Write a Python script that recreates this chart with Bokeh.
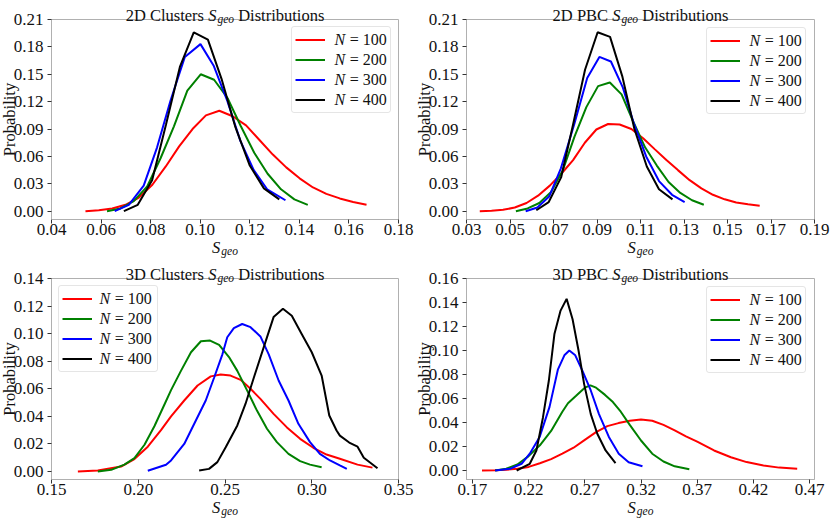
import math
from bokeh.plotting import figure
from bokeh.layouts import gridplot
from bokeh.models import Legend, LegendItem, FixedTicker, PrintfTickFormatter, Range1d
from bokeh.core.properties import value
from bokeh.embed import file_html
from bokeh.resources import INLINE

# ---------------- data ----------------
series_names = ["N = 100", "N = 200", "N = 300", "N = 400"]
series_colors = ["#ff0000", "#008000", "#0000ff", "#000000"]

# 2D Clusters
c2d_x100 = [0.0537, 0.0591, 0.0645, 0.0699, 0.0753, 0.0807, 0.0861, 0.0915, 0.0969, 0.1023, 0.1077,
            0.1131, 0.1185, 0.1239, 0.1293, 0.1347, 0.1401, 0.1455, 0.1509, 0.1563, 0.1617, 0.1671]
c2d_y100 = [0.000, 0.001, 0.003, 0.007, 0.015, 0.029, 0.049, 0.071, 0.090, 0.105, 0.110,
            0.104, 0.094, 0.078, 0.062, 0.048, 0.036, 0.026, 0.019, 0.014, 0.010, 0.007]
c2d_x200 = [0.0624, 0.0678, 0.0732, 0.0786, 0.0840, 0.0894, 0.0948, 0.1002, 0.1056, 0.1110,
            0.1164, 0.1218, 0.1272, 0.1326, 0.1380, 0.1434]
c2d_y200 = [0.000, 0.003, 0.011, 0.027, 0.058, 0.093, 0.132, 0.150, 0.144, 0.124,
            0.093, 0.064, 0.041, 0.024, 0.013, 0.007]
c2d_x300 = [0.0655, 0.0712, 0.0772, 0.0826, 0.0880, 0.0938, 0.1001, 0.1055, 0.1109, 0.1162,
            0.1216, 0.1270, 0.1344]
c2d_y300 = [0.000, 0.007, 0.028, 0.070, 0.121, 0.169, 0.183, 0.159, 0.121, 0.077,
            0.045, 0.024, 0.012]
c2d_x400 = [0.0692, 0.0748, 0.0806, 0.0862, 0.0918, 0.0974, 0.1031, 0.1086, 0.1142, 0.1200,
            0.1257, 0.1319]
c2d_y400 = [0.000, 0.007, 0.034, 0.095, 0.158, 0.196, 0.188, 0.145, 0.092, 0.050,
            0.025, 0.013]

# 2D PBC
p2d_x100 = [0.0361, 0.0415, 0.0468, 0.0522, 0.0576, 0.0629, 0.0683, 0.0736, 0.0790, 0.0844,
            0.0897, 0.0951, 0.1004, 0.1058, 0.1112, 0.1165, 0.1219, 0.1272, 0.1326, 0.1380,
            0.1433, 0.1487, 0.1540, 0.1594, 0.1648]
p2d_y100 = [0.000, 0.0005, 0.0015, 0.004, 0.009, 0.017, 0.028, 0.041, 0.056, 0.075,
            0.0895, 0.0955, 0.095, 0.090, 0.080, 0.068, 0.056, 0.045, 0.034, 0.025,
            0.018, 0.013, 0.0095, 0.0075, 0.006]
p2d_x200 = [0.0527, 0.0581, 0.0635, 0.0689, 0.0743, 0.0797, 0.0851, 0.0905, 0.0959, 0.1013,
            0.1067, 0.1121, 0.1175, 0.1229, 0.1283, 0.1337, 0.1391]
p2d_y200 = [0.000, 0.003, 0.009, 0.021, 0.045, 0.082, 0.114, 0.137, 0.141, 0.128,
            0.098, 0.070, 0.050, 0.032, 0.020, 0.012, 0.007]
p2d_x300 = [0.0572, 0.0626, 0.0680, 0.0734, 0.0795, 0.0855, 0.0911, 0.0964, 0.1018, 0.1071,
            0.1126, 0.1185, 0.1245, 0.1303]
p2d_y300 = [0.000, 0.004, 0.016, 0.047, 0.095, 0.146, 0.169, 0.164, 0.136, 0.095,
            0.060, 0.033, 0.018, 0.010]
p2d_x400 = [0.0621, 0.0678, 0.0735, 0.0790, 0.0845, 0.0903, 0.0960, 0.1016, 0.1072, 0.1129,
            0.1185, 0.1247]
p2d_y400 = [0.001, 0.010, 0.037, 0.095, 0.155, 0.196, 0.191, 0.148, 0.090, 0.049,
            0.024, 0.013]

# 3D Clusters
c3d_x100 = [0.1652, 0.1767, 0.1901, 0.1978, 0.2055, 0.2131, 0.2189, 0.2265, 0.2342, 0.2418,
            0.2475, 0.2532, 0.2590, 0.2647, 0.2704, 0.2780, 0.2857, 0.2933, 0.3009, 0.3085,
            0.3162, 0.3264, 0.3350]
c3d_y100 = [0.000, 0.0007, 0.0036, 0.0090, 0.018, 0.030, 0.040, 0.0515, 0.0624, 0.069,
            0.0703, 0.0696, 0.0665, 0.060, 0.0527, 0.0418, 0.032, 0.0237, 0.0172, 0.0123,
            0.0092, 0.0050, 0.0028]
c3d_x200 = [0.1767, 0.1844, 0.1920, 0.1978, 0.2036, 0.2093, 0.2151, 0.2189, 0.2246, 0.2304,
            0.2361, 0.2414, 0.2466, 0.2523, 0.2571, 0.2628, 0.2685, 0.2742, 0.2799, 0.2866,
            0.2933, 0.2990, 0.3057]
c3d_y200 = [0.000, 0.0012, 0.0050, 0.0097, 0.0194, 0.0328, 0.0486, 0.059, 0.073, 0.0865,
            0.0945, 0.095, 0.0919, 0.083, 0.073, 0.0587, 0.044, 0.031, 0.0213, 0.0128,
            0.0075, 0.0050, 0.0031]
c3d_x300 = [0.2055, 0.2160, 0.2189, 0.2265, 0.2332, 0.2389, 0.2437, 0.2485, 0.2513, 0.2551,
            0.2599, 0.2647, 0.2704, 0.2752, 0.2809, 0.2866, 0.2923, 0.2990, 0.3047, 0.3105,
            0.3162, 0.3202]
c3d_y300 = [0.0005, 0.0049, 0.008, 0.020, 0.037, 0.0515, 0.068, 0.085, 0.0974, 0.104,
            0.107, 0.1047, 0.098, 0.085, 0.066, 0.0515, 0.0346, 0.0213, 0.0128, 0.008,
            0.0044, 0.0019]
c3d_x400 = [0.2351, 0.2408, 0.2456, 0.2504, 0.2571, 0.2618, 0.2666, 0.2723, 0.2780, 0.2834,
            0.2885, 0.2942, 0.3000, 0.3057, 0.3101, 0.3143, 0.3162, 0.3216, 0.3264, 0.3300,
            0.3379]
c3d_y400 = [0.0007, 0.0019, 0.0068, 0.0176, 0.0334, 0.049, 0.068, 0.090, 0.112, 0.118,
            0.113, 0.0998, 0.0865, 0.0696, 0.0406, 0.0297, 0.026, 0.0210, 0.0180, 0.0100,
            0.0024]

# 3D PBC
p3d_x100 = [0.1785, 0.1900, 0.2000, 0.2100, 0.2200, 0.2300, 0.2400, 0.2500, 0.2600, 0.2700,
            0.2800, 0.2900, 0.3000, 0.3100, 0.3200, 0.3300, 0.3400, 0.3500, 0.3600, 0.3700,
            0.3850, 0.4000, 0.4140, 0.4290, 0.4430, 0.4590]
p3d_y100 = [0.000, 0.0003, 0.0006, 0.0015, 0.003, 0.006, 0.0095, 0.014, 0.019, 0.0255,
            0.032, 0.037, 0.0395, 0.0415, 0.0425, 0.0415, 0.038, 0.0335, 0.0285, 0.0240,
            0.0167, 0.0110, 0.0070, 0.0042, 0.0024, 0.0015]
p3d_x200 = [0.1902, 0.2000, 0.2100, 0.2200, 0.2300, 0.2400, 0.2500, 0.2550, 0.2620, 0.2700,
            0.2750, 0.2800, 0.2880, 0.2950, 0.3020, 0.3100, 0.3200, 0.3300, 0.3400, 0.3500,
            0.3630]
p3d_y200 = [0.000, 0.0015, 0.005, 0.012, 0.021, 0.033, 0.049, 0.056, 0.062, 0.069,
            0.071, 0.069, 0.063, 0.057, 0.049, 0.038, 0.025, 0.014, 0.0075, 0.0035,
            0.0011]
p3d_x300 = [0.1902, 0.2034, 0.2137, 0.2210, 0.2298, 0.2386, 0.2460, 0.2518, 0.2562, 0.2615,
            0.2679, 0.2753, 0.2826, 0.2914, 0.3002, 0.3090, 0.3213]
p3d_y300 = [0.000, 0.0014, 0.0056, 0.014, 0.028, 0.053, 0.084, 0.096, 0.100, 0.096,
            0.083, 0.0667, 0.047, 0.028, 0.014, 0.0069, 0.0036]
p3d_x400 = [0.2093, 0.2210, 0.2269, 0.2327, 0.2380, 0.2430, 0.2483, 0.2538, 0.2591, 0.2644,
            0.2694, 0.2753, 0.2811, 0.2885, 0.2973]
p3d_y400 = [0.000, 0.0056, 0.0167, 0.044, 0.075, 0.114, 0.133, 0.143, 0.126, 0.100,
            0.072, 0.047, 0.0306, 0.0167, 0.0061]

# tick values
t1_x = [0.04, 0.06, 0.08, 0.10, 0.12, 0.14, 0.16, 0.18]
t2_x = [0.03, 0.05, 0.07, 0.09, 0.11, 0.13, 0.15, 0.17, 0.19]
t12_y = [0.00, 0.03, 0.06, 0.09, 0.12, 0.15, 0.18, 0.21]
t3_x = [0.15, 0.20, 0.25, 0.30, 0.35]
t3_y = [0.00, 0.02, 0.04, 0.06, 0.08, 0.10, 0.12, 0.14]
t4_x = [0.17, 0.22, 0.27, 0.32, 0.37, 0.42, 0.47]
t4_y = [0.00, 0.02, 0.04, 0.06, 0.08, 0.10, 0.12, 0.14, 0.16]

titles = ["2D Clusters", "2D PBC", "3D Clusters", "3D PBC"]

# ---------------- styling helpers ----------------
FONT = "Liberation Serif"
TXT = "#111111"
SPINE = "#b0b0b0"
FS = 16.0
TITLE_FS = 16.5
TICK_FS = 17.0

W_REG = {" ": 250, "2": 500, "3": 500, "D": 722, "C": 667, "P": 556, "B": 667, "l": 278,
         "u": 500, "s": 389, "t": 278, "e": 444, "r": 333, "i": 278, "b": 500, "o": 500,
         "n": 500}
W_IT = {"S": 500, "g": 500, "e": 444, "o": 500, "N": 667}


def tw(s, size, table):
    return sum(table[c] for c in s) / 1000.0 * size


def txt(p, x, y, text, dx, dy, size=FS, italic=False, align="left", baseline="alphabetic",
        angle=0.0):
    # text glyph on the overlay level, so that it is not clipped to the frame
    p.text(x=[x], y=[y], text=[text], x_offset=dx, y_offset=dy, angle=angle,
           text_font=value(FONT), text_font_size=value(f"{size}px"),
           text_font_style=value("italic" if italic else "normal"),
           text_color=TXT, text_align=value(align), text_baseline=value(baseline),
           level="overlay")


def make_panel(prefix, xs, ys, xr, yr, xt, yt, W, H, L, fw, T, B, legend_loc, margin):
    p = figure(width=W, height=H, x_range=Range1d(*xr), y_range=Range1d(*yr),
               output_backend="svg", toolbar_location=None, tools="", title=None,
               min_border_left=L, min_border_right=W - L - fw,
               min_border_top=T, min_border_bottom=B)
    p.grid.visible = False
    p.outline_line_color = SPINE
    p.outline_line_width = 1
    p.background_fill_color = "white"
    p.border_fill_color = "white"
    for ax in (p.xaxis[0], p.yaxis[0]):
        ax.axis_line_color = SPINE
        ax.major_tick_line_color = "#333333"
        ax.major_tick_in = 0
        ax.major_tick_out = 4
        ax.minor_tick_line_color = None
        ax.major_label_text_font = FONT
        ax.major_label_text_font_size = f"{TICK_FS}px"
        ax.major_label_text_color = TXT
        ax.formatter = PrintfTickFormatter(format="%.2f")
    p.xaxis[0].ticker = FixedTicker(ticks=xt)
    p.yaxis[0].ticker = FixedTicker(ticks=yt)
    p.xaxis[0].major_label_standoff = 0
    p.yaxis[0].major_label_standoff = 4

    rends = []
    for x, y, c in zip(xs, ys, series_colors):
        rends.append(p.line(x, y, line_color=c, line_width=2))

    # legend (sample lines drawn by Bokeh, labels overlaid in mixed italic/upright)
    pad, gw, gh, sp, stand, lw = 3, 30, 19, 1, 8, 54
    kw = dict(items=[LegendItem(label=" ", renderers=[r]) for r in rends],
              location=legend_loc, margin=margin, padding=pad, spacing=sp,
              glyph_width=gw, glyph_height=gh, label_height=gh, label_width=lw,
              label_standoff=stand, border_line_color="#cccccc", border_line_width=1,
              background_fill_color=None, label_text_font_size="10px")
    if "border_radius" in Legend.properties():
        kw["border_radius"] = 3
    p.add_layout(Legend(**kw))
    box_w = 2 * pad + gw + stand + lw
    if legend_loc == "top_right":
        ax_x = xr[1]
        tx = -(margin + box_w) + pad + gw + stand
    else:
        ax_x = xr[0]
        tx = margin + pad + gw + stand
    for i, name in enumerate(series_names):
        cy = margin + pad + gh / 2.0 + i * (gh + sp)
        txt(p, ax_x, yr[1], "N", tx, cy, italic=True, baseline="middle")
        txt(p, ax_x, yr[1], name[2:], tx + tw("N", FS, W_IT) + 4.5, cy, baseline="middle")

    # title: prefix + S_geo + Distributions
    xc = (xr[0] + xr[1]) / 2.0
    sub = TITLE_FS * 0.7
    sp_w = tw(" ", TITLE_FS, W_REG)
    wp = tw(prefix, TITLE_FS, W_REG)
    ws = tw("S", TITLE_FS, W_IT)
    wg = tw("geo", sub, W_IT)
    wd = tw("Distributions", TITLE_FS, W_REG)
    total = wp + sp_w + ws + 1 + wg + sp_w + wd
    x0 = -total / 2.0
    txt(p, xc, yr[1], prefix, x0, -4, size=TITLE_FS)
    txt(p, xc, yr[1], "S", x0 + wp + sp_w, -4, size=TITLE_FS, italic=True)
    txt(p, xc, yr[1], "geo", x0 + wp + sp_w + ws + 1, -1, size=sub, italic=True)
    txt(p, xc, yr[1], "Distributions", x0 + wp + sp_w + ws + 1 + wg + sp_w, -4, size=TITLE_FS)

    # x axis label S_geo (kept clear of the clipped bottom strip)
    xs0 = -(ws + 1 + wg) / 2.0
    txt(p, xc, yr[0], "S", xs0, 28, size=TITLE_FS, italic=True)
    txt(p, xc, yr[0], "geo", xs0 + ws + 1, 31, size=sub, italic=True)

    # y axis label
    txt(p, xr[0], (yr[0] + yr[1]) / 2.0, "Probability", -42, 0, size=TITLE_FS, align="center",
        baseline="middle", angle=math.pi / 2)
    return p


p1 = make_panel(titles[0], [c2d_x100, c2d_x200, c2d_x300, c2d_x400],
                [c2d_y100, c2d_y200, c2d_y300, c2d_y400],
                (0.04, 0.18), (-0.0091, 0.21), t1_x, t12_y,
                415, 259, 51, 347, 19, 40, "top_right", 7)
p2 = make_panel(titles[1], [p2d_x100, p2d_x200, p2d_x300, p2d_x400],
                [p2d_y100, p2d_y200, p2d_y300, p2d_y400],
                (0.03, 0.19), (-0.0091, 0.21), t2_x, t12_y,
                415, 259, 51, 348, 19, 40, "top_right", 8)
p3 = make_panel(titles[2], [c3d_x100, c3d_x200, c3d_x300, c3d_x400],
                [c3d_y100, c3d_y200, c3d_y300, c3d_y400],
                (0.15, 0.35), (-0.0058, 0.14), t3_x, t3_y,
                415, 260, 51, 347, 19, 40, "top_left", 7)
p4 = make_panel(titles[3], [p3d_x100, p3d_x200, p3d_x300, p3d_x400],
                [p3d_y100, p3d_y200, p3d_y300, p3d_y400],
                (0.1647, 0.4744), (-0.0075, 0.16), t4_x, t4_y,
                415, 260, 51, 352, 19, 40, "top_right", 8)

grid = gridplot([[p1, p2], [p3, p4]], toolbar_location=None)
open("out.html", "w").write(file_html(grid, INLINE))
